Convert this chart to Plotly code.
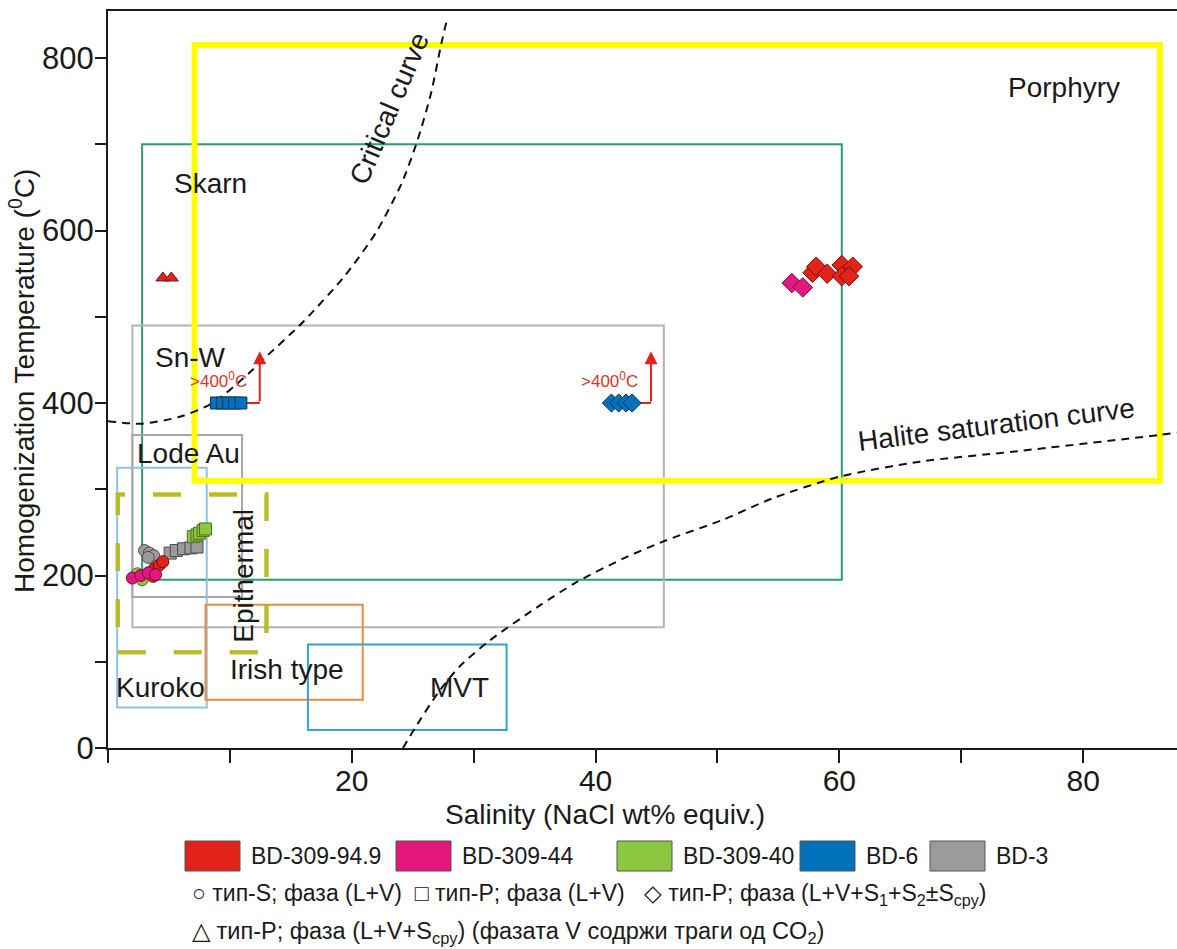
import plotly.graph_objects as go

# ---------------- data ----------------
# Fluid-inclusion measurements: salinity (NaCl wt% equiv.) and homogenization temperature (°C)
bd309_949_circle_x = [3.4, 3.8, 4.2, 4.5, 3.7]
bd309_949_circle_y = [203, 208, 212, 216, 199]
bd309_949_diamond_x = [57.8, 58.1, 59.0, 60.2, 60.2, 61.1, 60.8]
bd309_949_diamond_y = [551, 558, 550, 560, 547, 558, 547]
bd309_949_triangle_x = [4.5, 5.2]
bd309_949_triangle_y = [545, 545]

bd309_44_circle_x = [2.0, 2.7, 3.3, 3.9]
bd309_44_circle_y = [197, 200, 203, 201]
bd309_44_diamond_x = [56.1, 57.0]
bd309_44_diamond_y = [539, 534]

bd309_40_circle_x = [2.4, 2.8]
bd309_40_circle_y = [202, 195]
bd309_40_square_x = [7.0, 7.3, 7.5, 7.8, 8.0]
bd309_40_square_y = [245, 247, 249, 252, 254]

bd6_square_x = [8.9, 9.4, 9.9, 10.4, 10.9]
bd6_square_y = [400, 400, 400, 400, 400]
bd6_diamond_x = [41.3, 41.9, 42.5, 43.0]
bd6_diamond_y = [400, 400, 400, 400]

bd3_circle_x = [3.0, 3.4, 3.75, 3.3]
bd3_circle_y = [229, 226, 223, 221]
bd3_square_x = [5.1, 5.6, 6.2, 6.8, 7.3]
bd3_square_y = [226, 229, 231, 232, 233]

# Deposit-type fields (salinity range, temperature range)
deposit_names = ["Skarn", "Sn-W", "Lode Au", "Kuroko", "Irish type", "MVT", "Porphyry", "Epithermal"]
deposit_x0 = [2.8, 2.0, 2.0, 0.75, 8.0, 16.4, 7.1, 0.8]
deposit_x1 = [60.2, 45.6, 11.0, 8.1, 20.9, 32.7, 86.3, 13.0]
deposit_y0 = [195, 140, 175, 47, 56, 21, 310, 111]
deposit_y1 = [700, 490, 363, 325, 166, 120, 815, 294]

# Label anchor values for each field (salinity, temperature)
label_x = [8.4, 6.8, 6.6, 4.3, 14.7, 28.8, 78.4, 11.1]
label_y = [654, 453, 341, 70, 91, 70, 766, 200]

# Critical curve and halite saturation curve
critical_x = [0.0, 2.7, 5.9, 8.6, 11.6, 12.7, 16.0, 19.4, 22.0, 24.1, 25.4, 26.5, 27.35, 27.8]
critical_y = [379, 376, 384, 400, 435, 450, 494, 547, 598, 655, 705, 759, 817, 844]
halite_x = [24.2, 25.2, 27.1, 28.85, 31.3, 35.4, 38.4, 42.25, 45.7, 50.45, 54.55, 60.0, 66.6, 74.2, 86.3, 87.7]
halite_y = [0, 23.5, 64.5, 94.6, 124.5, 165, 192, 219.5, 240.3, 264.6, 289.6, 314.6, 332, 343.5, 363, 365.6]

# Axis ticks
x_tick_vals = [0, 10, 20, 30, 40, 50, 60, 70, 80]
x_tick_text = ["", "", "20", "", "40", "", "60", "", "80"]
y_tick_vals = [0, 100, 200, 300, 400, 500, 600, 700, 800]
y_tick_text = ["0", "", "200", "", "400", "", "600", "", "800"]

samples = ["BD-309-94.9", "BD-309-44", "BD-309-40", "BD-6", "BD-3"]

# ---------------- styles ----------------
FONT = "Arial, Liberation Sans, sans-serif"
TXT = "#1a1a1a"
W, H = 1177, 949
ML, MR, MT, MB = 108, 0, 11, 201

sample_fill = {"BD-309-94.9": "#e2231a", "BD-309-44": "#e3177e", "BD-309-40": "#8dc63f",
               "BD-6": "#0072bc", "BD-3": "#9b9b9b"}
sample_edge = {"BD-309-94.9": "#6e1210", "BD-309-44": "#6b0f3c", "BD-309-40": "#4f6e24",
               "BD-6": "#0b3558", "BD-3": "#4a4a4a"}
deposit_color = {"Skarn": "#2a9a78", "Sn-W": "#b3b3bb", "Lode Au": "#a6a6a6", "Kuroko": "#8cc3e6",
                 "Irish type": "#ef8a3c", "MVT": "#35a3cf", "Porphyry": "#ffff00", "Epithermal": "#b9bd2c"}
deposit_width = {"Porphyry": 6, "Epithermal": 4.5}
deposit_dash = {"Epithermal": "28px,28px"}


def pxx(px):
    return (px - ML) / (W - ML - MR)


def pyy(py):
    return (H - MB - py) / (H - MB - MT)


fig = go.Figure()

# deposit fields
for i, name in enumerate(deposit_names):
    fig.add_shape(type="rect", xref="x", yref="y",
                  x0=deposit_x0[i], x1=deposit_x1[i], y0=deposit_y0[i], y1=deposit_y1[i],
                  line=dict(color=deposit_color[name], width=deposit_width.get(name, 2),
                            dash=deposit_dash.get(name, "solid")),
                  fillcolor="rgba(0,0,0,0)", layer="below")

# curves
for cx, cy in [(critical_x, critical_y), (halite_x, halite_y)]:
    fig.add_trace(go.Scatter(x=cx, y=cy, mode="lines",
                             line=dict(color="#111111", width=2, dash="8px,6px", shape="spline", smoothing=0.7),
                             hoverinfo="skip", showlegend=False))

# >400°C indicators
for xs in [bd6_square_x, bd6_diamond_x]:
    x_start = max(xs) + 0.5
    x_turn = max(xs) + 1.55
    fig.add_trace(go.Scatter(x=[x_start, x_turn], y=[400, 400], mode="lines",
                             line=dict(color="#e2231a", width=2), hoverinfo="skip", showlegend=False))
    fig.add_annotation(x=x_turn, y=460, ax=x_turn, ay=400, xref="x", yref="y", axref="x", ayref="y",
                       text="", showarrow=True, arrowhead=2, arrowsize=1.3, arrowwidth=2, arrowcolor="#e2231a")
    fig.add_annotation(x=x_turn - 3.4, y=427, xref="x", yref="y", text="&gt;400<sup>0</sup>C",
                       xanchor="center", yanchor="middle",
                       showarrow=False, font=dict(family=FONT, size=17, color="#d8352c"))

# data points
series = [
    ("BD-3", "square", bd3_square_x, bd3_square_y, 12),
    ("BD-309-40", "square", bd309_40_square_x, bd309_40_square_y, 12),
    ("BD-6", "square", bd6_square_x, bd6_square_y, 12),
    ("BD-6", "diamond", bd6_diamond_x, bd6_diamond_y, 14),
    ("BD-309-44", "diamond", bd309_44_diamond_x, bd309_44_diamond_y, 15),
    ("BD-309-94.9", "diamond", bd309_949_diamond_x, bd309_949_diamond_y, 15),
    ("BD-309-94.9", "triangle-up", bd309_949_triangle_x, bd309_949_triangle_y, 12),
    ("BD-3", "circle", bd3_circle_x, bd3_circle_y, 12),
    ("BD-309-94.9", "circle", bd309_949_circle_x, bd309_949_circle_y, 12),
    ("BD-309-40", "circle", bd309_40_circle_x, bd309_40_circle_y, 12),
    ("BD-309-44", "circle", bd309_44_circle_x, bd309_44_circle_y, 12),
]
for s, sym, xs, ys, size in series:
    fig.add_trace(go.Scatter(x=xs, y=ys, mode="markers", name=s, showlegend=False,
                             marker=dict(symbol=sym, size=size, color=sample_fill[s],
                                         line=dict(color=sample_edge[s], width=1))))

# field labels
label_angle = {"Epithermal": -90}
for i, name in enumerate(deposit_names):
    fig.add_annotation(x=label_x[i], y=label_y[i], xref="x", yref="y", text=name, showarrow=False,
                       xanchor="center", yanchor="middle",
                       textangle=label_angle.get(name, 0), font=dict(family=FONT, size=28, color=TXT))
fig.add_annotation(x=23.1, y=741, xref="x", yref="y", text="Critical curve", showarrow=False,
                   xanchor="center", yanchor="middle",
                   textangle=-67, font=dict(family=FONT, size=28, color=TXT))
fig.add_annotation(x=72.9, y=375, xref="x", yref="y", text="Halite saturation curve", showarrow=False,
                   xanchor="center", yanchor="middle",
                   textangle=-7, font=dict(family=FONT, size=28, color=TXT))

# axis titles
fig.add_annotation(x=pxx(605), y=pyy(815), xref="paper", yref="paper", text="Salinity (NaCl wt% equiv.)",
                   xanchor="center", yanchor="middle",
                   showarrow=False, font=dict(family=FONT, size=28, color=TXT))
fig.add_annotation(x=pxx(22), y=pyy(381), xref="paper", yref="paper",
                   text="Homogenization Temperature (<sup>0</sup>C)", textangle=-90,
                   xanchor="center", yanchor="middle",
                   showarrow=False, font=dict(family=FONT, size=28, color=TXT))

# custom legend row 1
box_left = [185, 396, 617, 800, 930]
box_w = 55
for s, bx in zip(samples, box_left):
    fig.add_shape(type="rect", xref="paper", yref="paper", x0=pxx(bx), x1=pxx(bx + box_w),
                  y0=pyy(871), y1=pyy(841), fillcolor=sample_fill[s], line=dict(color="#555555", width=1))
    fig.add_annotation(x=pxx(bx + box_w + 9), y=pyy(856), xref="paper", yref="paper", text=s,
                       xanchor="left", yanchor="middle",
                       showarrow=False, font=dict(family=FONT, size=23, color=TXT))

row2 = ("○ тип-S; фаза (L+V)&nbsp;&nbsp;□ тип-P; фаза (L+V)&nbsp;&nbsp;&nbsp;◇ тип-P; фаза "
        "(L+V+S<sub>1</sub>+S<sub>2</sub>±S<sub>cpy</sub>)")
row3 = "△ тип-P; фаза (L+V+S<sub>cpy</sub>) (фазата V содржи траги од CO<sub>2</sub>)"
fig.add_annotation(x=pxx(190), y=pyy(894), xref="paper", yref="paper", text=row2,
                   xanchor="left", yanchor="middle",
                   showarrow=False, font=dict(family=FONT, size=23, color=TXT))
fig.add_annotation(x=pxx(190), y=pyy(932), xref="paper", yref="paper", text=row3,
                   xanchor="left", yanchor="middle",
                   showarrow=False, font=dict(family=FONT, size=23.5, color=TXT))

fig.update_layout(
    width=W, height=H, margin=dict(l=ML, r=MR, t=MT, b=MB),
    paper_bgcolor="white", plot_bgcolor="white",
    xaxis=dict(range=[0, 87.7], tickmode="array", tickvals=x_tick_vals, ticktext=x_tick_text,
               ticks="outside", ticklen=13, tickwidth=2, tickcolor=TXT,
               showline=True, linewidth=2, linecolor=TXT, mirror=True,
               showgrid=False, zeroline=False, ticklabelstandoff=-8,
               tickfont=dict(family=FONT, size=30, color=TXT)),
    yaxis=dict(range=[0, 854.5], tickmode="array", tickvals=y_tick_vals, ticktext=y_tick_text,
               ticks="outside", ticklen=11, tickwidth=2, tickcolor=TXT,
               showline=True, linewidth=2, linecolor=TXT, mirror=False,
               showgrid=False, zeroline=False, ticklabelstandoff=-5,
               tickfont=dict(family=FONT, size=31, color=TXT)),
    showlegend=False,
)

fig.write_html("out.html", config={"displayModeBar": False},
               post_script="document.body.style.margin='0';document.body.style.overflow='hidden';")
